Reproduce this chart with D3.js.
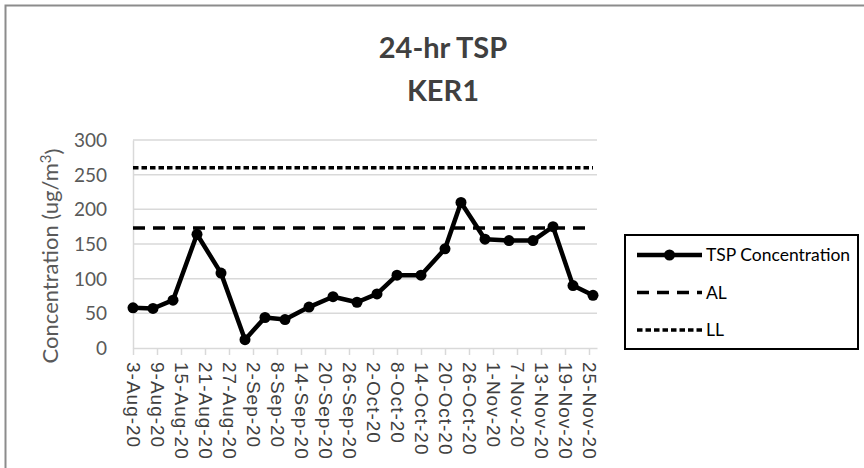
<!DOCTYPE html>
<html>
<head>
<meta charset="utf-8">
<script src="https://cdn.jsdelivr.net/npm/d3@7"></script>
<style>
  body { margin: 0; background: #fff; }
  svg { display: block; }
  .tick-y { font-family: Lato, sans-serif; font-size: 19px; fill: #595959; }
  .tick-x { font-family: "Liberation Sans", Arial, sans-serif; font-size: 19px; letter-spacing: 1px; fill: #404040; }
</style>
</head>
<body>
<div id="chart"></div>
<script>
// sampling dates and measured 24-hr TSP (ug/m3)
const sampleDates = ["2020-08-03","2020-08-08","2020-08-13","2020-08-19","2020-08-25","2020-08-31",
  "2020-09-05","2020-09-10","2020-09-16","2020-09-22","2020-09-28","2020-10-03","2020-10-08",
  "2020-10-14","2020-10-20","2020-10-24","2020-10-30","2020-11-05","2020-11-11","2020-11-16",
  "2020-11-21","2020-11-26"];
const tspValues = [58, 57, 69, 164, 108, 12, 44, 41, 59, 74, 66, 78, 105, 105, 143, 210, 157, 155, 155, 175, 90, 76];
const alValue = 173;   // alert level
const llValue = 260;   // limit level
const tickDates = ["2020-08-03","2020-08-09","2020-08-15","2020-08-21","2020-08-27","2020-09-02",
  "2020-09-08","2020-09-14","2020-09-20","2020-09-26","2020-10-02","2020-10-08","2020-10-14",
  "2020-10-20","2020-10-26","2020-11-01","2020-11-07","2020-11-13","2020-11-19","2020-11-25"];
const yTicks = [0, 50, 100, 150, 200, 250, 300];
const legendLabels = ["TSP Concentration", "AL", "LL"];

const width = 864, height = 468;
const parse = d3.utcParse("%Y-%m-%d");
const fmt = d3.utcFormat("%-d-%b-%y");

const svg = d3.select("#chart").append("svg")
  .attr("width", width).attr("height", height);

svg.append("rect").attr("width", width).attr("height", height).attr("fill", "#fff");
// outer chart border (only top and left fall inside the picture)
svg.append("path")
  .attr("d", `M5.5,${height} V5.5 H${width}`)
  .attr("fill", "none").attr("stroke", "#8c8c8c").attr("stroke-width", 2);

// title
svg.append("text").text("24-hr TSP")
  .attr("x", 443).attr("y", 58).attr("text-anchor", "middle")
  .style("font-family", "Lato, sans-serif").style("font-weight", "bold")
  .style("font-size", "29px").attr("fill", "#404040");
svg.append("text").text("KER1")
  .attr("x", 443).attr("y", 101).attr("text-anchor", "middle")
  .style("font-family", "Lato, sans-serif").style("font-weight", "bold")
  .style("font-size", "29px").attr("fill", "#404040");

const x = d3.scaleUtc()
  .domain([parse("2020-08-03"), parse("2020-11-27")])
  .range([133, 597]);
const y = d3.scaleLinear().domain([0, 300]).range([348, 140]);

// gridlines
svg.append("g")
  .selectAll("line").data(yTicks.filter(d => d > 0)).join("line")
  .attr("x1", x.range()[0]).attr("x2", x.range()[1])
  .attr("y1", d => y(d)).attr("y2", d => y(d))
  .attr("stroke", "#d9d9d9").attr("stroke-width", 1.5);

// y axis
const yAxis = svg.append("g")
  .attr("transform", `translate(${x.range()[0]},0)`)
  .call(d3.axisLeft(y).tickValues(yTicks).tickSize(0).tickPadding(26));
yAxis.select(".domain").attr("stroke", "#d9d9d9").attr("stroke-width", 1.5);
yAxis.selectAll("text").attr("class", "tick-y").attr("dy", "0.35em");

// x axis
const xAxis = svg.append("g")
  .attr("transform", `translate(0,${y(0)})`)
  .call(d3.axisBottom(x).tickValues(tickDates.map(parse)).tickFormat(fmt).tickSize(7).tickSizeOuter(0));
xAxis.select(".domain").attr("stroke", "#d9d9d9").attr("stroke-width", 1.5);
xAxis.selectAll(".tick line").attr("stroke", "#d9d9d9").attr("stroke-width", 1.5);
xAxis.selectAll("text")
  .attr("class", "tick-x")
  .attr("transform", "rotate(90)")
  .attr("text-anchor", "start")
  .attr("x", 14).attr("y", 0).attr("dy", "0.35em");

// y axis title
svg.append("text")
  .attr("transform", `translate(58,${(y(0) + y(300)) / 2 + 12}) rotate(-90)`)
  .attr("text-anchor", "middle")
  .style("font-family", "Lato, sans-serif").style("font-size", "22px").attr("fill", "#595959")
  .call(t => {
    t.append("tspan").text("Concentration (ug/m");
    t.append("tspan").text("3").attr("dy", "-0.45em").style("font-size", "15px");
    t.append("tspan").text(")").attr("dy", "0.45em");
  });

const first = parse(sampleDates[0]), last = parse(sampleDates[sampleDates.length - 1]);

// limit lines
svg.append("line")
  .attr("x1", x(first)).attr("x2", x(last))
  .attr("y1", y(alValue)).attr("y2", y(alValue))
  .attr("stroke", "#000").attr("stroke-width", 3.5).attr("stroke-dasharray", "12,8");
svg.append("line")
  .attr("x1", x(first)).attr("x2", x(last))
  .attr("y1", y(llValue)).attr("y2", y(llValue))
  .attr("stroke", "#000").attr("stroke-width", 3.5).attr("stroke-dasharray", "5.5,3");

// TSP series
const points = sampleDates.map((d, i) => ({ date: parse(d), value: tspValues[i] }));
svg.append("path")
  .datum(points)
  .attr("fill", "none").attr("stroke", "#000").attr("stroke-width", 4.5)
  .attr("stroke-linejoin", "round")
  .attr("d", d3.line().x(d => x(d.date)).y(d => y(d.value)));
svg.append("g")
  .selectAll("circle").data(points).join("circle")
  .attr("cx", d => x(d.date)).attr("cy", d => y(d.value))
  .attr("r", 5.5).attr("fill", "#000");

// legend
const legend = svg.append("g");
legend.append("rect")
  .attr("x", 625).attr("y", 235).attr("width", 233).attr("height", 114)
  .attr("fill", "#fff").attr("stroke", "#000").attr("stroke-width", 2);
const dashes = [null, "12,8", "5.5,3"];
legendLabels.forEach((lab, i) => {
  const ly = 255 + i * 37.5;
  legend.append("line")
    .attr("x1", 637).attr("x2", 702).attr("y1", ly).attr("y2", ly)
    .attr("stroke", "#000").attr("stroke-width", i === 0 ? 4.5 : 3.5)
    .attr("stroke-dasharray", dashes[i]);
  if (i === 0) {
    legend.append("circle").attr("cx", 669.5).attr("cy", ly).attr("r", 5.5).attr("fill", "#000");
  }
  legend.append("text").text(lab)
    .attr("x", 706).attr("y", ly).attr("dy", "0.35em")
    .style("font-family", "Lato, sans-serif").style("font-size", "17.5px").attr("fill", "#000");
});
</script>
</body>
</html>
